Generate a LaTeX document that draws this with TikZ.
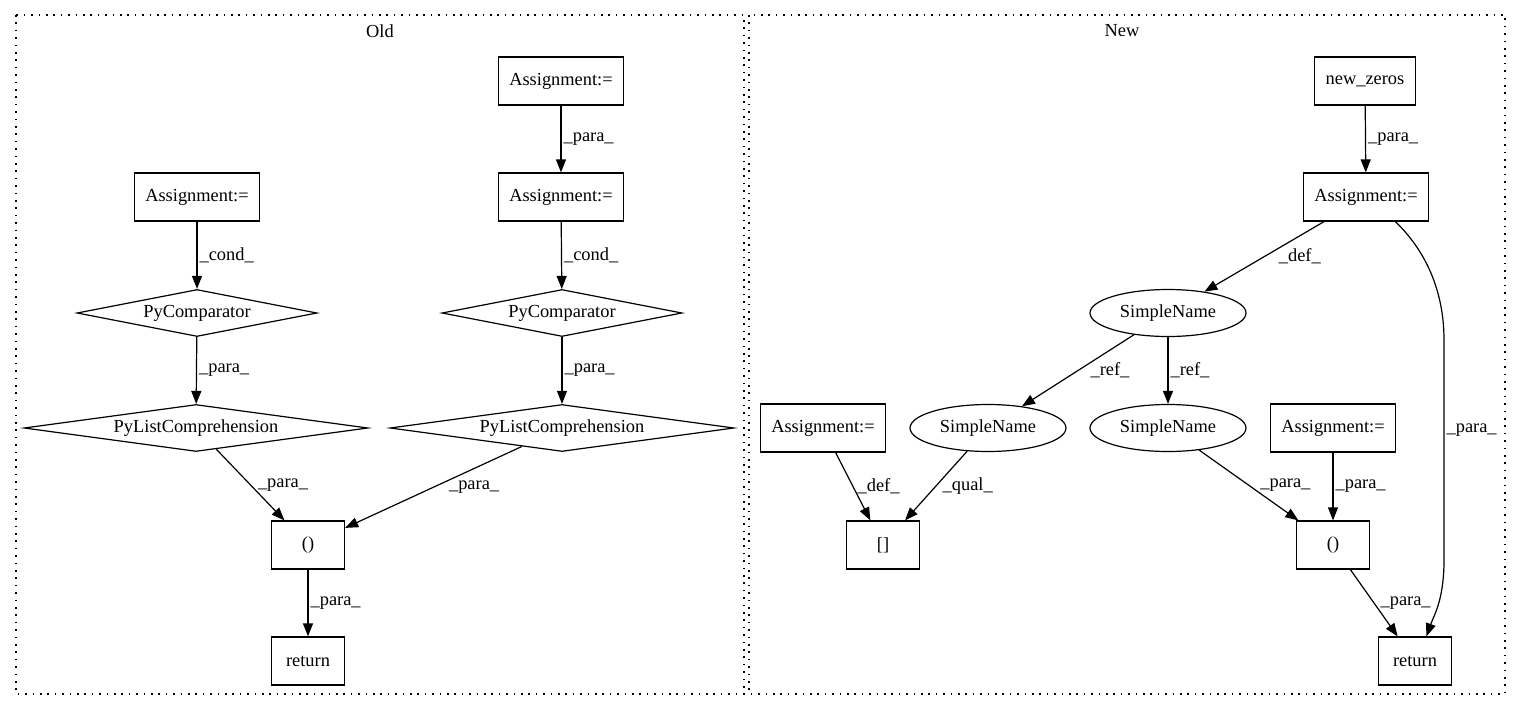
\documentclass[tikz,border=0pt]{standalone}
\usepackage{fontspec}
\setmainfont{Liberation Serif}
\usetikzlibrary{arrows.meta,shapes.geometric}

\begin{document}
\begin{tikzpicture}[x=0.5pt, y=-0.5pt, font=\fontsize{9.2}{11}\selectfont,
    box/.style={draw, line width=0.6pt, minimum height=24pt, minimum width=36.5pt, inner xsep=5.5pt},
    cmp/.style={draw, diamond, aspect=7, inner sep=0pt, line width=0.6pt, minimum height=23.5pt, minimum width=120pt},
    lcomp/.style={cmp, minimum width=172pt},
    sname/.style={draw, ellipse, inner sep=0pt, line width=0.6pt, minimum height=23.5pt, minimum width=78pt},
    arr/.style={-{Triangle[length=6.5pt,width=5pt]}, line width=0.6pt},
    lbl/.style={midway, right, inner sep=1pt},
    cluster/.style={draw, line width=0.6pt, dash pattern=on 0.8pt off 2.9pt}]

    \useasboundingbox (0,0) rectangle (1516,712);

    % Draw the two clusters with their titles
    \draw[cluster] (16,15) rectangle (744,694);
    \node (oldtitle) at (380,31) {Old};
    \draw[cluster] (749,15) rectangle (1505,694);
    \node (newtitle) at (1122,31) {New};

    % Old: place the nodes
    \node[box] (oasgtop) at (561,81) {Assignment:=};
    \node[box] (oasgright) at (561,197) {Assignment:=};
    \node[box] (oasgleft) at (197,197) {Assignment:=};
    \node[cmp] (ocmpleft) at (197,313) {PyComparator};
    \node[cmp] (ocmpright) at (562,313) {PyComparator};
    \node[lcomp] (olcleft) at (196,428) {PyListComprehension};
    \node[lcomp] (olcright) at (562,428) {PyListComprehension};
    \node[box] (ocall) at (308,545) {()};
    \node[box] (oret) at (308,661) {return};

    % Old: the edges
    \draw[arr] (oasgtop) -- (oasgright) node[lbl] {\_para\_};
    \draw[arr] (oasgright) -- (ocmpright) node[lbl] {\_cond\_};
    \draw[arr] (oasgleft) -- (ocmpleft) node[lbl] {\_cond\_};
    \draw[arr] (ocmpleft) -- (olcleft) node[lbl] {\_para\_};
    \draw[arr] (ocmpright) -- (olcright) node[lbl] {\_para\_};
    \draw[arr] (olcleft) -- (ocall) node[lbl, xshift=2.5pt] {\_para\_};
    \draw[arr] (olcright) -- (ocall) node[lbl, xshift=6.5pt] {\_para\_};
    \draw[arr] (ocall) -- (oret) node[lbl] {\_para\_};

    % New: place the nodes
    \node[box] (nzeros) at (1365,81) {new\_zeros};
    \node[box] (nasg) at (1366,197) {Assignment:=};
    \node[sname] (nsntop) at (1168,313) {SimpleName};
    \node[sname] (nsnleft) at (988,428) {SimpleName};
    \node[sname] (nsnmid) at (1168,428) {SimpleName};
    \node[box] (nasgleft) at (823,428) {Assignment:=};
    \node[box] (nasgright) at (1333,428) {Assignment:=};
    \node[box] (nindex) at (883,545) {[]};
    \node[box] (ncall) at (1333,545) {()};
    \node[box] (nret) at (1415,661) {return};

    % New: the edges
    \draw[arr] (nzeros) -- (nasg) node[lbl] {\_para\_};
    \draw[arr] (nasg) -- (nsntop) node[lbl, xshift=6pt] {\_def\_};
    \draw[arr] (nsntop) -- (nsnleft) node[lbl, xshift=5pt] {\_ref\_};
    \draw[arr] (nsntop) -- (nsnmid) node[lbl] {\_ref\_};
    \draw[arr] (nasgleft) -- (nindex) node[lbl, xshift=1pt] {\_def\_};
    \draw[arr] (nsnleft) -- (nindex) node[lbl, xshift=2pt] {\_qual\_};
    \draw[arr] (nsnmid) -- (ncall) node[lbl, xshift=4.5pt] {\_para\_};
    \draw[arr] (nasgright) -- (ncall) node[lbl] {\_para\_};
    \draw[arr] (ncall) -- (nret) node[lbl, xshift=2pt] {\_para\_};
    \draw[arr] (nasg.-40) .. controls (1425,250) and (1444,290) .. (1444,340)
        -- node[lbl, pos=0.41] {\_para\_} (1444,560)
        .. controls (1444,600) and (1434,615) .. (nret.65);

\end{tikzpicture}
\end{document}
